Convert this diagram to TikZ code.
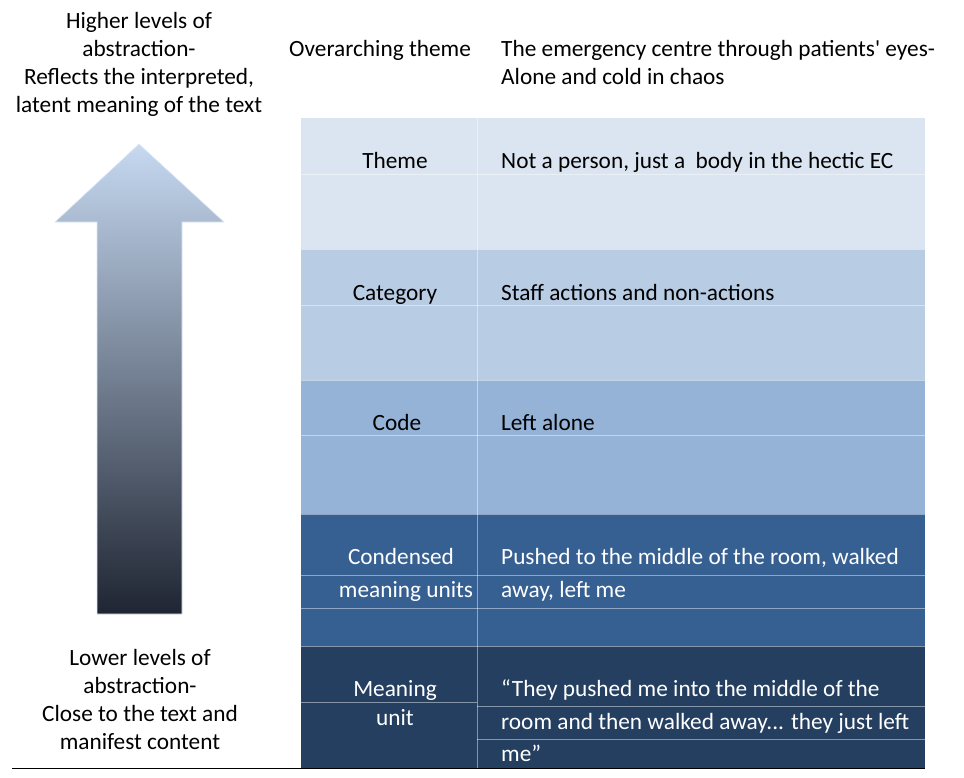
\documentclass[tikz,border=0pt]{standalone}
\usepackage{fontspec}
\setmainfont{Carlito}[Ligatures=TeXOff]
\definecolor{themec}{HTML}{DBE5F1}
\definecolor{catc}{HTML}{B8CCE4}
\definecolor{codec}{HTML}{95B3D7}
\definecolor{condc}{HTML}{366092}
\definecolor{meanc}{HTML}{243F60}
\definecolor{arrtop}{HTML}{C6D9F1}
\definecolor{arrmid}{HTML}{7D8EA8}
\definecolor{arrbot}{HTML}{1F2532}
\tikzset{
  txt/.style={font=\fontsize{23.3}{28}\selectfont, inner sep=0pt, anchor=base},
  txtl/.style={txt, anchor=base west},
  grid/.style={draw=white, draw opacity=0.45, line width=0.8pt},
}
\begin{document}
\begin{tikzpicture}[x=1pt,y=-1pt]
\useasboundingbox (0,0) rectangle (964,777);
% table rows
\fill[themec] (301,118) rectangle (925,249);
\fill[catc]   (301,249) rectangle (925,380);
\fill[codec]  (301,380) rectangle (925,514);
\fill[condc]  (301,514) rectangle (925,646);
\fill[meanc]  (301,646) rectangle (925,768);
% inner grid lines
\draw[grid] (301,174) -- (925,174);
\draw[grid] (301,249) -- (925,249);
\draw[grid] (301,305) -- (925,305);
\draw[grid] (301,380) -- (925,380);
\draw[grid] (301,435) -- (925,435);
\draw[grid] (301,514) -- (925,514);
\draw[grid] (301,575) -- (925,575);
\draw[grid] (301,608) -- (925,608);
\draw[grid] (301,646) -- (925,646);
\draw[grid] (301,702) -- (477,702);
\draw[grid] (477,706) -- (925,706);
\draw[grid] (477,739) -- (925,739);
\draw[grid] (477,118) -- (477,768);
% bottom rule
\draw[black, line width=1pt] (12,768) -- (925,768);
% arrow
\shade[top color=arrtop, middle color=arrmid, bottom color=arrbot, draw=arrtop!60!white, line width=0.6pt]
  (139,144) -- (224,222) -- (182,222) -- (182,614) -- (97,614) -- (97,222) -- (55,222) -- cycle;
% left texts
\node[txt] (h1) at (139,28) {Higher levels of};
\node[txt] (h2) at (139,56) {abstraction-};
\node[txt] (h3) at (139,84) {Reflects the interpreted,};
\node[txt] (h4) at (139,112) {latent meaning of the text};
\node[txt] (l1) at (140,665) {Lower levels of};
\node[txt] (l2) at (140,693) {abstraction-};
\node[txt] (l3) at (140,721) {Close to the text and};
\node[txt] (l4) at (140,749) {manifest content};
% header
\node[txt] (oh) at (380,56) {Overarching theme};
\node[txtl] (ot1) at (501,56) {The emergency centre through patients' eyes-};
\node[txtl] (ot2) at (501,84) {Alone and cold in chaos};
% rows
\node[txt] (th) at (395,168) {Theme};
\node[txtl] (tht) at (501,168) {Not a person, just a \ body in the hectic EC};
\node[txt] (ca) at (395,300) {Category};
\node[txtl] (cat) at (501,300) {Staff actions and non-actions};
\node[txt] (co) at (397,430) {Code};
\node[txtl] (cot) at (501,430) {Left alone};
\node[txt, text=white] (cm1) at (401,564) {Condensed};
\node[txt, text=white] (cm2) at (406,597) {meaning units};
\node[txtl, text=white] (cmt1) at (501,564) {Pushed to the middle of the room, walked};
\node[txtl, text=white] (cmt2) at (501,597) {away, left me};
\node[txt, text=white] (mu1) at (395,696) {Meaning};
\node[txt, text=white] (mu2) at (395,725) {unit};
\node[txtl, text=white] (mut1) at (501,696) {“They pushed me into the middle of the};
\node[txtl, text=white] (mut2) at (501,729) {room and then walked away... they just left};
\node[txtl, text=white] (mut3) at (501,761) {me”};
\end{tikzpicture}
\end{document}
